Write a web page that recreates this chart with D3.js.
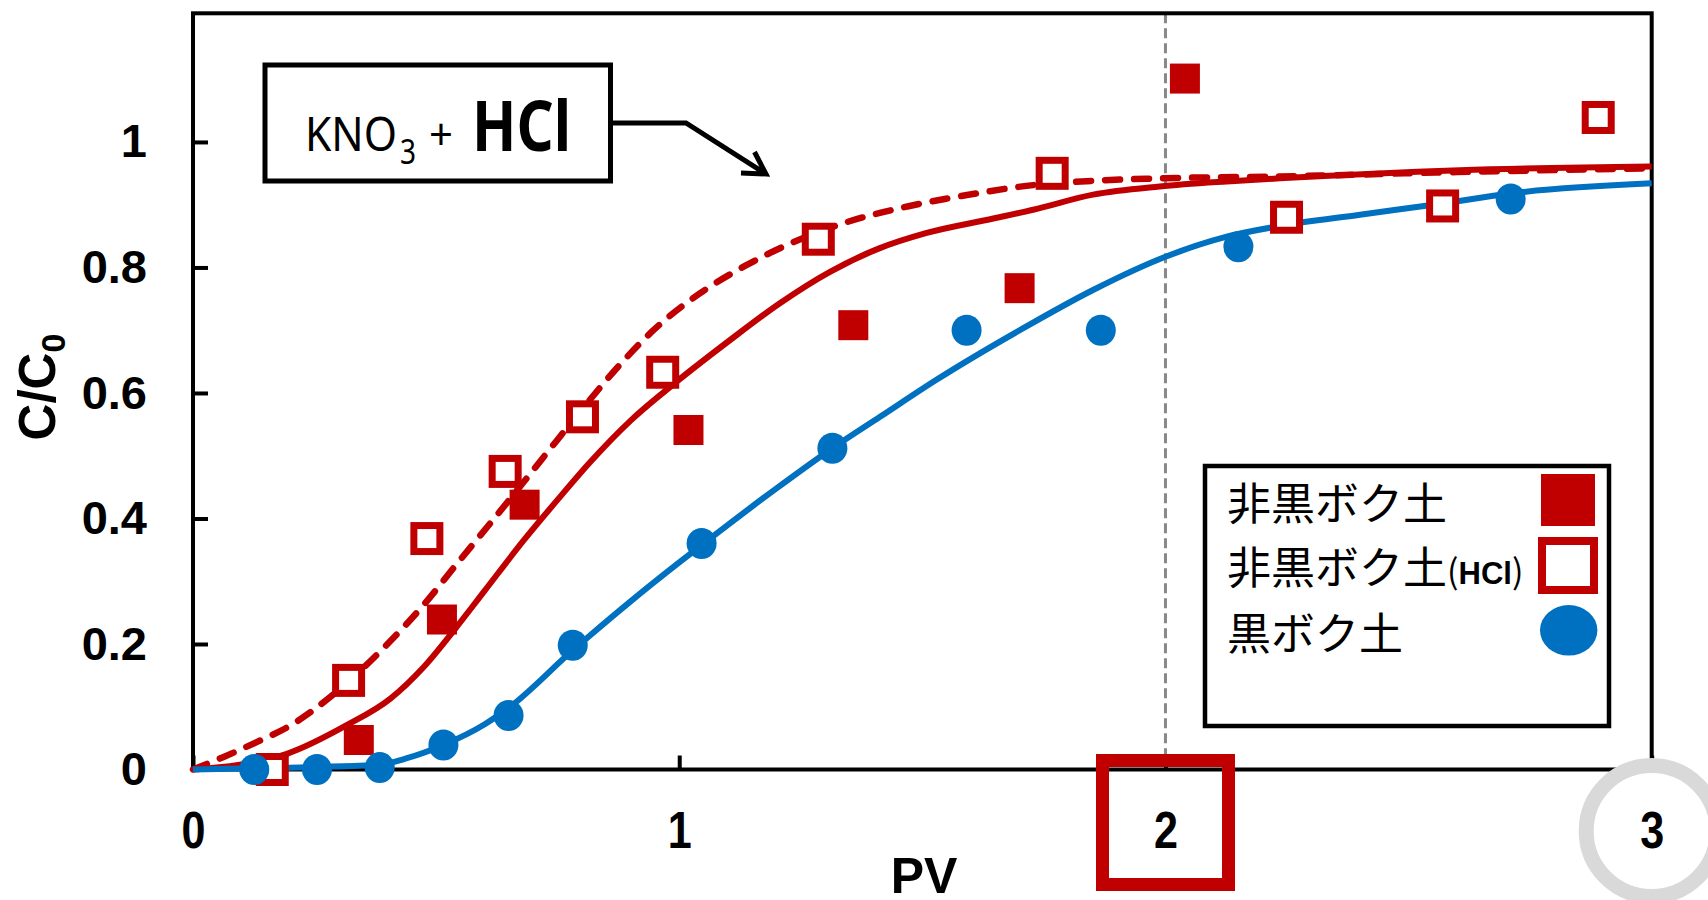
<!DOCTYPE html>
<html>
<head>
<meta charset="utf-8">
<script src="https://cdn.jsdelivr.net/npm/d3@7"></script>
<style>
  body { margin: 0; background: #fff; }
  svg { display: block; }
  .num { font-family: "Liberation Sans", Arial, sans-serif; font-weight: bold; }
</style>
</head>
<body>
<svg width="1708" height="900"></svg>
<script>
// axis ticks
var pvTicks = [0, 1, 2, 3];
var cTicks = [0, 0.2, 0.4, 0.6, 0.8, 1];

// measured points
var nonAndoX = [0.341, 0.512, 0.682, 1.019, 1.358, 1.70, 2.04];
var nonAndoY = [0.047, 0.239, 0.422, 0.541, 0.708, 0.767, 1.101];

var hclX = [0.163, 0.32, 0.481, 0.642, 0.801, 0.966, 1.286, 1.767, 2.249, 2.57, 2.89];
var hclY = [0.0, 0.142, 0.368, 0.475, 0.562, 0.633, 0.845, 0.950, 0.880, 0.898, 1.039];

var andoX = [0.126, 0.255, 0.384, 0.515, 0.649, 0.781, 1.046, 1.315, 1.591, 1.867, 2.15, 2.71];
var andoY = [0.0, 0.0, 0.003, 0.039, 0.086, 0.198, 0.36, 0.512, 0.700, 0.700, 0.833, 0.909];

// fitted curves
var fitNonX = [0, 0.1, 0.193, 0.317, 0.406, 0.474, 0.54, 0.6, 0.68, 0.75, 0.817, 0.9, 0.974, 1.104, 1.207, 1.31, 1.41, 1.509, 1.646, 1.728, 1.851, 1.988, 2.126, 2.235, 2.605, 3.0];
var fitNonY = [0, 0.008, 0.025, 0.071, 0.113, 0.163, 0.225, 0.285, 0.365, 0.43, 0.49, 0.556, 0.605, 0.684, 0.743, 0.793, 0.83, 0.855, 0.878, 0.892, 0.916, 0.929, 0.937, 0.942, 0.955, 0.961];

var fitHclX = [0, 0.063, 0.132, 0.2, 0.3, 0.4, 0.474, 0.543, 0.611, 0.68, 0.748, 0.796, 0.878, 0.947, 1.043, 1.139, 1.228, 1.344, 1.474, 1.612, 1.714, 1.851, 1.988, 2.235, 2.6, 3.0];
var fitHclY = [0, 0.02, 0.044, 0.07, 0.127, 0.2, 0.262, 0.328, 0.392, 0.458, 0.524, 0.57, 0.645, 0.7, 0.759, 0.804, 0.838, 0.872, 0.898, 0.918, 0.93, 0.938, 0.942, 0.945, 0.952, 0.958];

var fitAndoX = [0, 0.126, 0.255, 0.384, 0.44, 0.515, 0.6, 0.649, 0.781, 0.817, 0.9, 1.0, 1.05, 1.2, 1.315, 1.413, 1.529, 1.714, 1.851, 2.0, 2.126, 2.235, 2.4, 2.57, 2.71, 3.0];
var fitAndoY = [0, 0.002, 0.004, 0.008, 0.018, 0.039, 0.072, 0.098, 0.19, 0.214, 0.268, 0.33, 0.36, 0.448, 0.512, 0.562, 0.621, 0.706, 0.764, 0.817, 0.849, 0.866, 0.884, 0.902, 0.918, 0.934];

var legendLabels = ["非黒ボク土", "非黒ボク土", "黒ボク土"];

var red = "#C00000", blue = "#0070C0";

var svg = d3.select("svg");

var x = d3.scaleLinear().domain([0, 3]).range([193, 1651.7]),
    y = d3.scaleLinear().domain([0, 1.205]).range([769.5, 13.3]);

function zip(xs, ys) { return xs.map(function(v, i) { return [v, ys[i]]; }); }

var line = d3.line()
    .x(function(d) { return x(d[0]); })
    .y(function(d) { return y(d[1]); })
    .curve(d3.curveMonotoneX);

// dashed marker line at PV = 2
svg.append("line")
    .attr("x1", x(2)).attr("x2", x(2))
    .attr("y1", y.range()[1]).attr("y2", y.range()[0])
    .style("stroke", "#888").style("stroke-width", 3)
    .style("stroke-dasharray", "10,5");

// axes
var gy = svg.append("g")
    .attr("class", "num")
    .attr("transform", "translate(" + x(0) + ",0)")
    .call(d3.axisLeft(y).tickValues(cTicks).tickSize(-15).tickPadding(46)
      .tickFormat(function(d) { return d3.format("")(+d.toFixed(1)); }));

var gx = svg.append("g")
    .attr("class", "num")
    .attr("transform", "translate(0," + y(0) + ")")
    .call(d3.axisBottom(x).tickValues(pvTicks).tickSize(-14).tickPadding(42)
      .tickFormat(d3.format("d")));

[gx, gy].forEach(function(g) {
  g.select(".domain").remove();
  g.selectAll(".tick line").style("stroke", "#000").style("stroke-width", 4);
  g.selectAll(".tick text").style("font-size", "47px").style("fill", "#000")
    .style("font-family", "'Liberation Sans', Arial, sans-serif")
    .style("font-weight", "bold");
});
// x labels are set in a condensed face in the original
gx.selectAll(".tick text")
    .style("font-size", "51px")
    .attr("textLength", 24).attr("lengthAdjust", "spacingAndGlyphs");

// frame
svg.append("rect")
    .attr("x", x(0)).attr("y", y.range()[1])
    .attr("width", x(3) - x(0)).attr("height", y(0) - y.range()[1])
    .style("fill", "none").style("stroke", "#000").style("stroke-width", 4);

// fitted curves
svg.append("path").datum(zip(fitNonX, fitNonY))
    .attr("d", line)
    .style("fill", "none").style("stroke", red).style("stroke-width", 6);

svg.append("path").datum(zip(fitHclX, fitHclY))
    .attr("d", line)
    .style("fill", "none").style("stroke", red).style("stroke-width", 6.5)
    .style("stroke-dasharray", "15,14").style("stroke-linecap", "round");

svg.append("path").datum(zip(fitAndoX, fitAndoY))
    .attr("d", line)
    .style("fill", "none").style("stroke", blue).style("stroke-width", 6);

// markers
svg.selectAll(".sq").data(zip(nonAndoX, nonAndoY)).enter().append("rect")
    .attr("class", "sq")
    .attr("x", function(d) { return x(d[0]) - 15; })
    .attr("y", function(d) { return y(d[1]) - 15; })
    .attr("width", 30).attr("height", 30)
    .style("fill", red);

svg.selectAll(".osq").data(zip(hclX, hclY)).enter().append("rect")
    .attr("class", "osq")
    .attr("x", function(d) { return x(d[0]) - 13; })
    .attr("y", function(d) { return y(d[1]) - 13; })
    .attr("width", 26).attr("height", 26)
    .style("fill", "#fff").style("stroke", red).style("stroke-width", 7);

svg.selectAll(".dot").data(zip(andoX, andoY)).enter().append("ellipse")
    .attr("class", "dot")
    .attr("cx", function(d) { return x(d[0]); })
    .attr("cy", function(d) { return y(d[1]); })
    .attr("rx", 15).attr("ry", 15.5)
    .style("fill", blue);

// annotation box KNO3 + HCl
svg.append("rect")
    .attr("x", 265).attr("y", 65).attr("width", 345.5).attr("height", 116)
    .style("fill", "#fff").style("stroke", "#000").style("stroke-width", 5);

var ann = svg.append("g").style("font-family", "'Noto Sans', 'Open Sans', sans-serif");
ann.append("text").attr("x", 305).attr("y", 151).style("font-size", "48px")
    .attr("textLength", 92).attr("lengthAdjust", "spacingAndGlyphs").text("KNO");
ann.append("text").attr("x", 400).attr("y", 164).style("font-size", "34px")
    .attr("textLength", 16).attr("lengthAdjust", "spacingAndGlyphs").text("3");
ann.append("text").attr("x", 429).attr("y", 150).style("font-size", "44px")
    .attr("textLength", 24).attr("lengthAdjust", "spacingAndGlyphs").text("+");
ann.append("text").attr("x", 472).attr("y", 151).style("font-size", "70px").style("font-weight", "bold")
    .attr("textLength", 99).attr("lengthAdjust", "spacingAndGlyphs").text("HCl");

svg.append("path")
    .attr("d", "M612,123H686L766,174M741,173L766,174L754.5,152")
    .style("fill", "none").style("stroke", "#000").style("stroke-width", 5)
    .style("stroke-linejoin", "miter");

// legend
svg.append("rect")
    .attr("x", 1205).attr("y", 466).attr("width", 404).attr("height", 260)
    .style("fill", "#fff").style("stroke", "#000").style("stroke-width", 4.5);

var lg = svg.append("g").style("font-family", "'Noto Sans CJK JP', sans-serif").style("font-size", "44px");
var rows = [520, 584, 650];
legendLabels.forEach(function(t, i) {
  var tx = lg.append("text").attr("x", 1227).attr("y", rows[i]).text(t);
  if (i === 1) {
    tx.append("tspan").style("font-size", "34px").text("(");
    tx.append("tspan").style("font-size", "31px").style("font-weight", "bold")
      .style("font-family", "'Liberation Sans', sans-serif").text("HCl");
    tx.append("tspan").style("font-size", "34px").text(")");
  }
});
svg.append("rect").attr("x", 1541).attr("y", 474).attr("width", 54).attr("height", 52).style("fill", red);
svg.append("rect").attr("x", 1542).attr("y", 541).attr("width", 52).attr("height", 49)
    .style("fill", "#fff").style("stroke", red).style("stroke-width", 8);
svg.append("ellipse").attr("cx", 1568.7).attr("cy", 630.3).attr("rx", 28.7).attr("ry", 25.3).style("fill", blue);

// highlight marks around ticks 2 and 3
svg.append("rect")
    .attr("x", 1102.5).attr("y", 760.5).attr("width", 126).attr("height", 124)
    .style("fill", "none").style("stroke", red).style("stroke-width", 13);
svg.append("circle")
    .attr("cx", x(3)).attr("cy", 831).attr("r", 65.5)
    .style("fill", "none").style("stroke", "#D9D9D9").style("stroke-width", 15);

// axis titles
svg.append("text").attr("class", "num")
    .attr("x", 924).attr("y", 893).attr("text-anchor", "middle")
    .style("font-size", "50px").text("PV");

var yt = svg.append("text").attr("class", "num")
    .attr("transform", "translate(55,387) rotate(-90)").attr("text-anchor", "middle")
    .style("font-size", "51px");
yt.append("tspan").text("C/C");
yt.append("tspan").attr("dy", 10).style("font-size", "34px").text("0");
</script>
</body>
</html>
